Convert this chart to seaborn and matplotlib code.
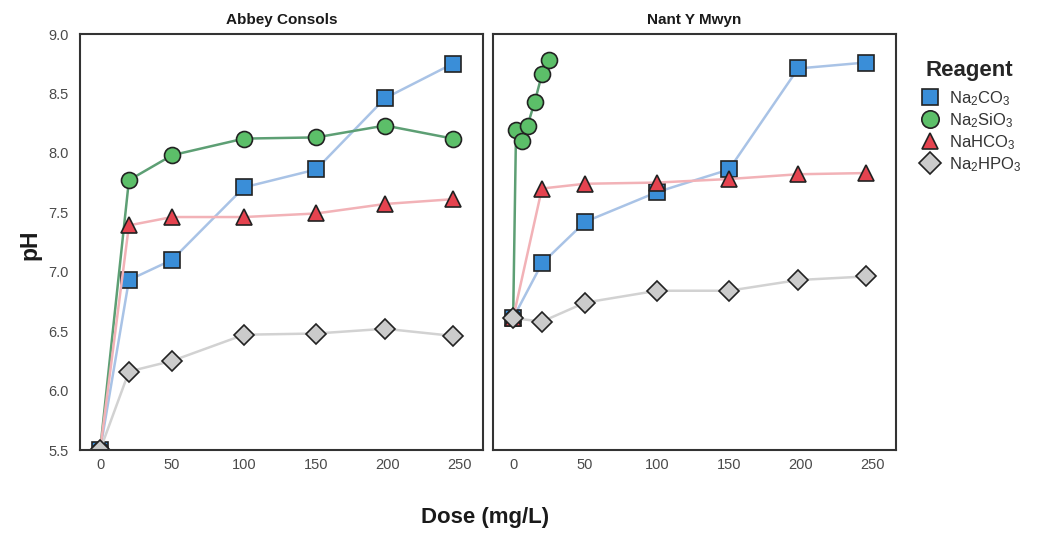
import matplotlib
matplotlib.use("Agg")
import matplotlib.pyplot as plt
from matplotlib.lines import Line2D
import seaborn as sns
import pandas as pd

sns.set_theme(style="white")
plt.rcParams['font.family'] = ['Liberation Sans', 'DejaVu Sans']
plt.rcParams['mathtext.default'] = 'regular'

# ---- data ----
reagents = ["Na$_2$CO$_3$", "Na$_2$SiO$_3$", "NaHCO$_3$", "Na$_2$HPO$_3$"]
sites = ["Abbey Consols", "Nant Y Mwyn"]

dose_std = [0, 20, 50, 100, 150, 198, 245]
dose_sio_nant = [0, 2, 6, 10, 15, 20, 25]

abbey_co3 = [5.5, 6.93, 7.10, 7.71, 7.86, 8.46, 8.75]
abbey_sio3 = [5.5, 7.77, 7.98, 8.12, 8.13, 8.23, 8.12]
abbey_hco3 = [5.5, 7.39, 7.46, 7.46, 7.49, 7.57, 7.61]
abbey_hpo3 = [5.5, 6.16, 6.25, 6.47, 6.48, 6.52, 6.46]

nant_co3 = [6.61, 7.07, 7.42, 7.67, 7.86, 8.71, 8.76]
nant_sio3 = [6.61, 8.19, 8.10, 8.23, 8.43, 8.66, 8.78]
nant_hco3 = [6.61, 7.70, 7.74, 7.75, 7.78, 7.82, 7.83]
nant_hpo3 = [6.61, 6.58, 6.74, 6.84, 6.84, 6.93, 6.96]

yticks = [5.5, 6.0, 6.5, 7.0, 7.5, 8.0, 8.5, 9.0]
xticks = [0, 50, 100, 150, 200, 250]

# ---- styles ----
markers = ["s", "o", "^", "D"]
face = ["#3a8ed8", "#5cbf69", "#e5434f", "#cbcbcb"]
line = ["#a9c3e6", "#5d9f74", "#f2b2b7", "#d2d2d2"]
msize = [11, 11.5, 11, 10]
edge = "#222222"

data = {
    "Abbey Consols": [(dose_std, abbey_co3), (dose_std, abbey_sio3),
                      (dose_std, abbey_hco3), (dose_std, abbey_hpo3)],
    "Nant Y Mwyn": [(dose_std, nant_co3), (dose_sio_nant, nant_sio3),
                    (dose_std, nant_hco3), (dose_std, nant_hpo3)],
}

W, H = 1037, 534
fig = plt.figure(figsize=(W / 100, H / 100), dpi=100)
axes = [fig.add_axes([80 / W, 1 - 450 / H, 403 / W, 416 / H]),
        fig.add_axes([493 / W, 1 - 450 / H, 403 / W, 416 / H])]

draw_order = [0, 1, 2, 3]
for ax, site in zip(axes, sites):
    for i in draw_order:
        x, y = data[site][i]
        df = pd.DataFrame({"dose": x, "pH": y})
        sns.lineplot(data=df, x="dose", y="pH", ax=ax, color=line[i],
                     linewidth=1.8, marker=markers[i], markersize=msize[i],
                     markerfacecolor=face[i], markeredgecolor=edge,
                     markeredgewidth=1.2, sort=False, legend=False,
                     errorbar=None)
    ax.set_xlim(-14, 266)
    ax.set_ylim(5.5, 9.0)
    ax.set_xticks(xticks)
    ax.set_yticks(yticks)
    ax.set_xlabel("")
    ax.set_ylabel("")
    ax.set_title(site, fontsize=11, fontweight="bold", color="#1a1a1a", pad=7)
    ax.tick_params(axis="both", length=0, labelsize=10.5, labelcolor="#4a4a4a")
    ax.tick_params(axis="x", pad=6)
    ax.tick_params(axis="y", pad=8)
    for sp in ax.spines.values():
        sp.set_color("#333333")
        sp.set_linewidth(1.5)

axes[0].set_yticklabels([f"{v:.1f}" for v in yticks])
axes[1].set_yticklabels([])

fig.text(30 / W, 1 - 245 / H, "pH", rotation=90, ha="center", va="center",
         fontsize=16.5, fontweight="bold", color="#1a1a1a")
fig.text(485 / W, 1 - 518 / H, "Dose (mg/L)", ha="center", va="center",
         fontsize=16, fontweight="bold", color="#1a1a1a")

handles = [Line2D([], [], linestyle="none", marker=markers[i], markersize=msize[i] + 1,
                  markerfacecolor=face[i], markeredgecolor=edge, markeredgewidth=1.2)
           for i in range(4)]
leg = fig.legend(handles, reagents, loc="upper left",
                 bbox_to_anchor=(910 / W, 1 - 53 / H), frameon=False,
                 title="Reagent", fontsize=12, handletextpad=0.35,
                 labelspacing=0.2, borderaxespad=0, handlelength=1.6)
leg.get_title().set_fontsize(16)
leg.get_title().set_fontweight("bold")
leg._legend_box.sep = 6
for t in leg.get_texts():
    t.set_color("#333333")

fig.savefig("out.png", dpi=100)
